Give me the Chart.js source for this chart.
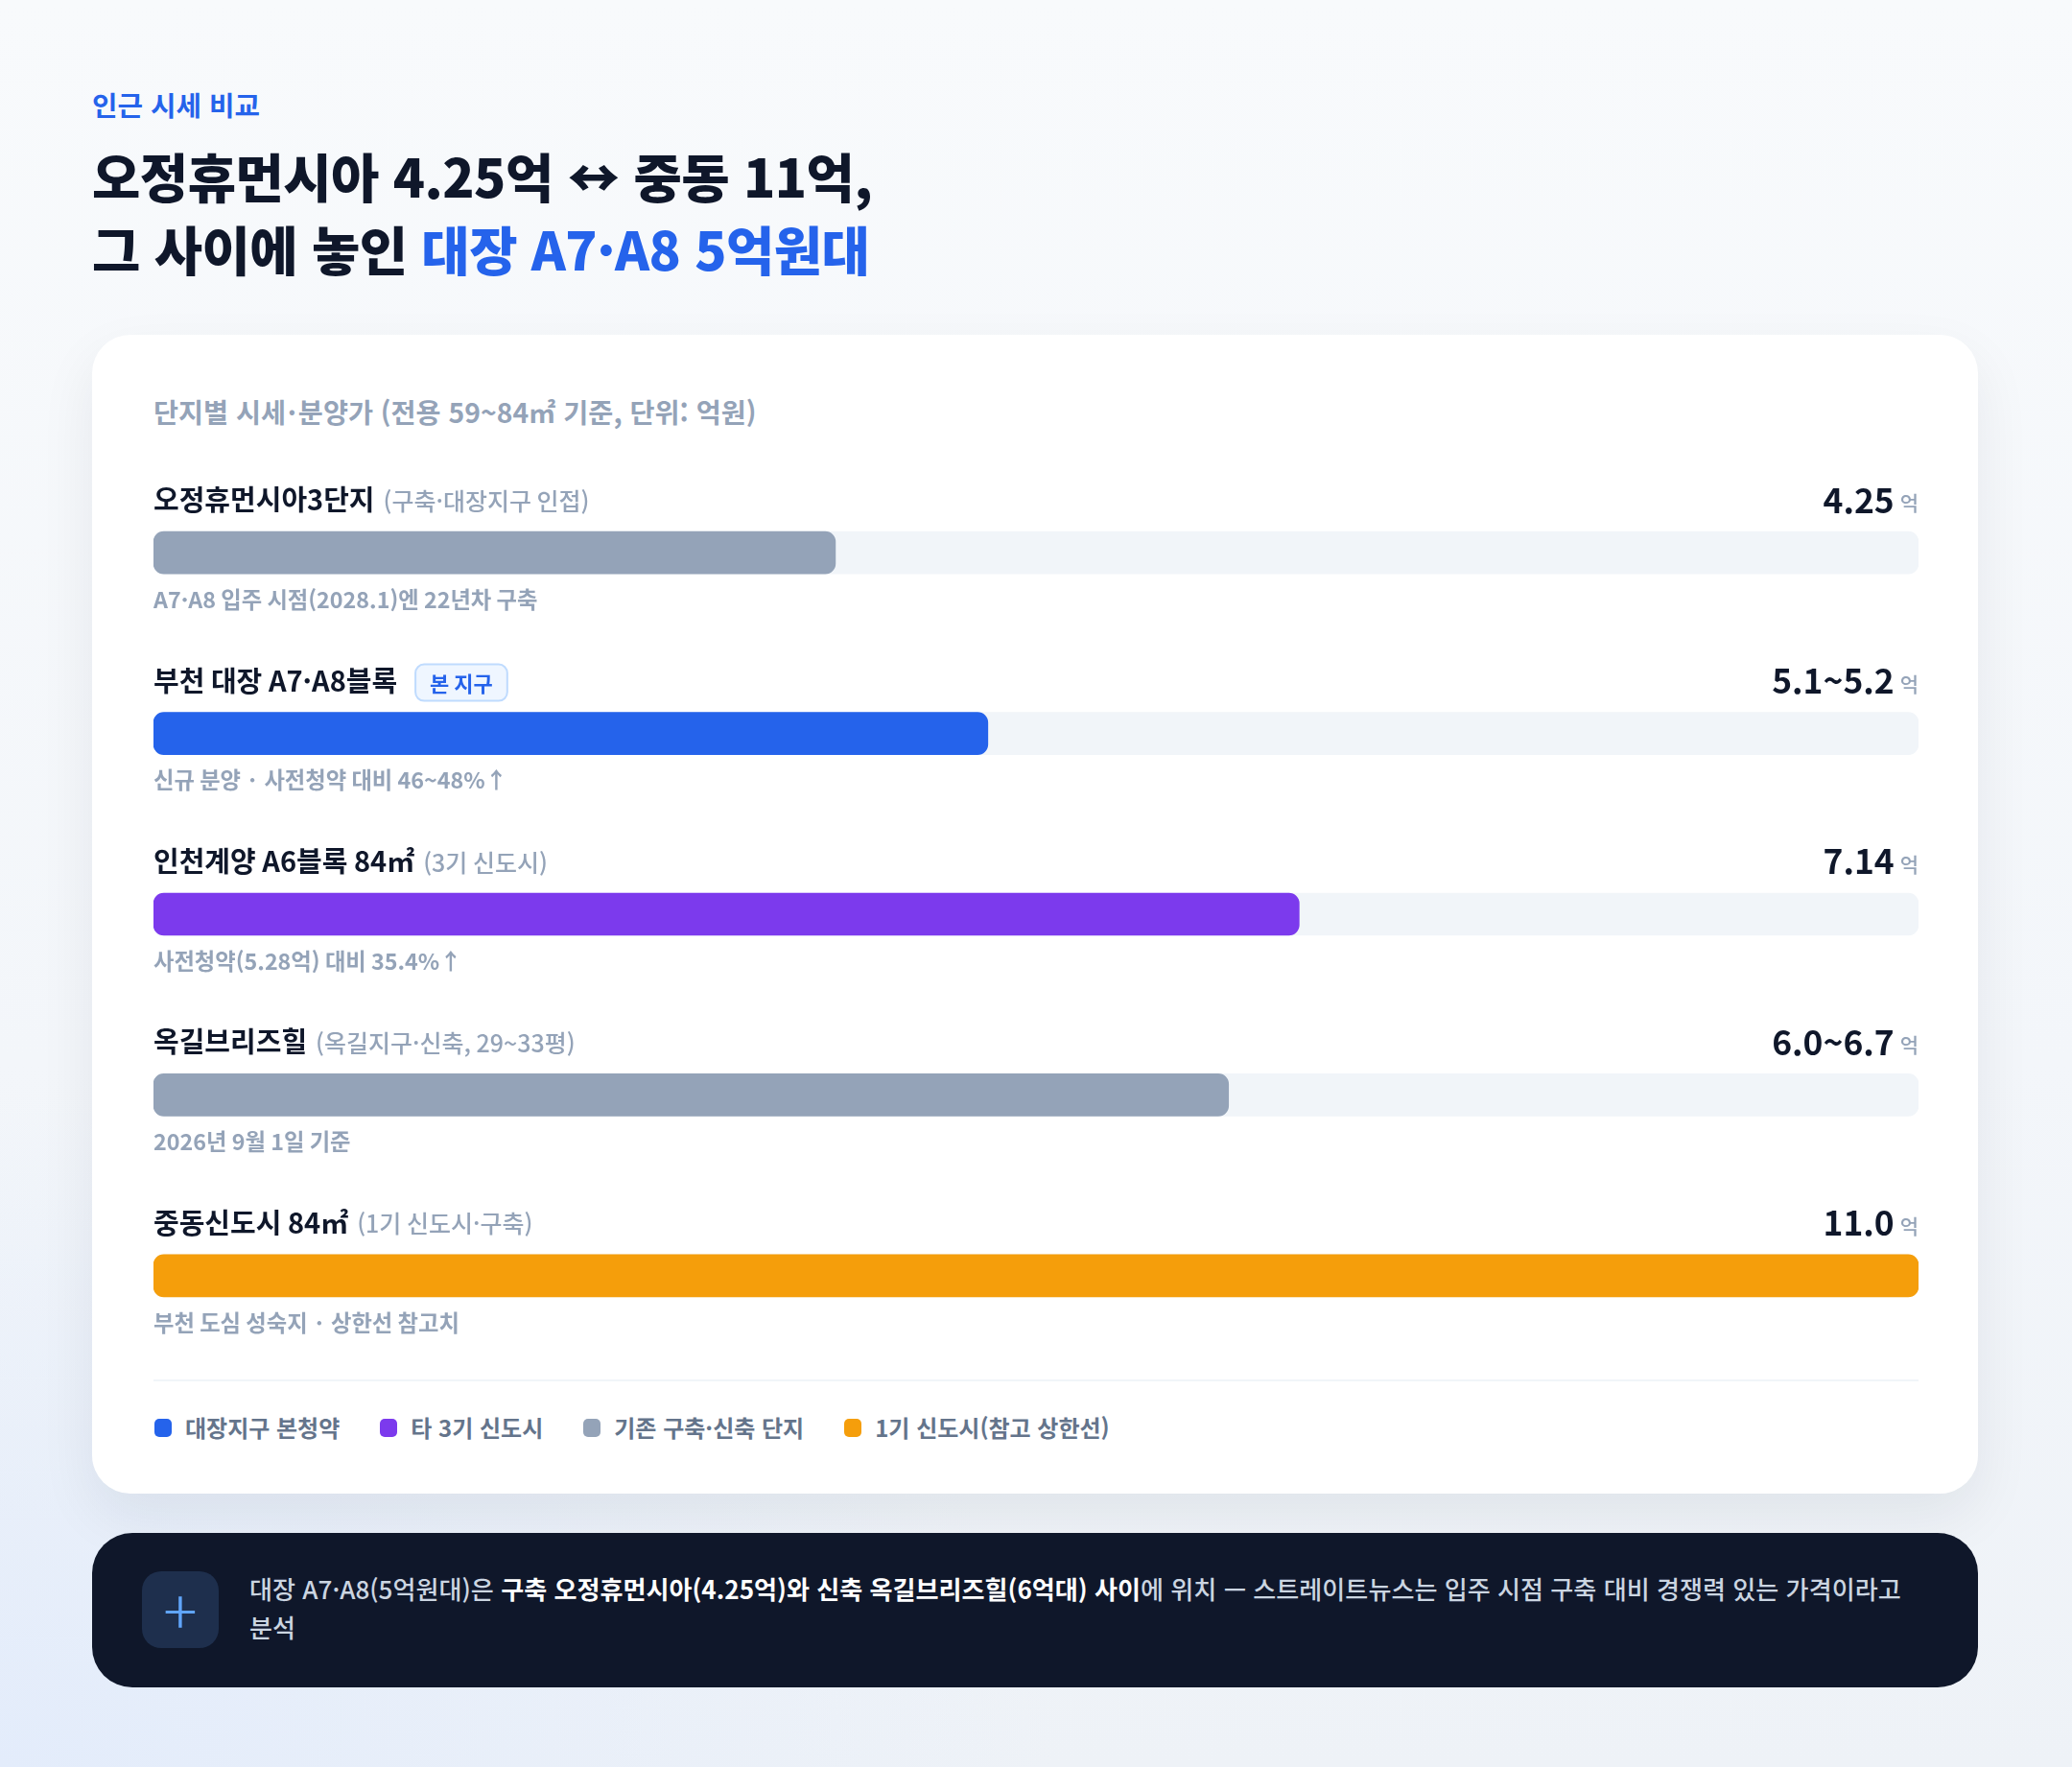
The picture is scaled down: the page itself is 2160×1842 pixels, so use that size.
<!DOCTYPE html>
<html lang="ko">
<head>
<meta charset="utf-8">
<title>인근 시세 비교</title>
<script src="https://cdn.jsdelivr.net/npm/chart.js@4.4.1/dist/chart.umd.min.js"></script>
<style>
  html, body { margin: 0; padding: 0; }
  body {
    width: 2160px; height: 1842px; position: relative; overflow: hidden;
    font-family: "Noto Sans CJK KR", "Noto Sans", sans-serif;
    background:
      radial-gradient(ellipse 1100px 700px at 0% 100%, #e3ecfb 0%, rgba(227,236,251,0) 100%),
      linear-gradient(180deg, #f8fafc 0%, #f3f6fa 60%, #eef2f7 100%);
  }
  .eyebrow { position: absolute; left: 96px; top: 89px; font-size: 28.8px; font-weight: 700; color: #2563eb; line-height: 40px; }
  .title { position: absolute; left: 96px; top: 145px; font-size: 54.7px; font-weight: 800; color: #0f172a; line-height: 76px; letter-spacing: -0.5px; }
  .title .hl { color: #2563eb; }
  .card {
    position: absolute; left: 96px; top: 349px; width: 1966px; height: 1208px;
    background: #fff; border-radius: 40px;
    box-shadow: 0 24px 60px rgba(15, 23, 42, 0.07);
  }
  .card h3 { position: absolute; left: 64px; top: 61px; margin: 0; font-size: 28.3px; font-weight: 700; color: #94a3b8; line-height: 38px; }
  .chart-box { position: absolute; left: 64px; top: 133px; width: 1840px; height: 942px; }
  .divider { position: absolute; left: 64px; top: 1089px; width: 1840px; height: 2px; background: #f1f5f9; }
  .legend { position: absolute; left: 65px; top: 1122px; display: flex; gap: 0; font-size: 24px; font-weight: 600; color: #64748b; line-height: 34px; }
  .legend span.item { display: flex; align-items: center; margin-right: 42px; }
  .legend i { display: inline-block; width: 18px; height: 19px; border-radius: 5px; margin-right: 14px; }
  .note {
    position: absolute; left: 96px; top: 1598px; width: 1966px; height: 161px;
    background: #0f172a; border-radius: 42px;
  }
  .note .icon {
    position: absolute; left: 52px; top: 40px; width: 80px; height: 80px; border-radius: 20px;
    background: #1e2f4d; color: #60a5fa; font-size: 66px; font-weight: 200; line-height: 76px; text-align: center;
  }
  .note p {
    position: absolute; left: 164px; top: 38px; width: 1745px; margin: 0;
    font-size: 26.1px; font-weight: 500; color: #cbd5e1; line-height: 40px;
  }
  .note p b { color: #fff; font-weight: 700; }
</style>
</head>
<body>
<div class="eyebrow">인근 시세 비교</div>
<div class="title">오정휴먼시아 4.25억 ↔ 중동 11억,<br>그 사이에 놓인 <span class="hl">대장 A7·A8 5억원대</span></div>

<div class="card">
  <h3>단지별 시세&#8202;·&#8202;분양가 (전용 59~84㎡ 기준, 단위: 억원)</h3>
  <div class="chart-box"><canvas id="priceChart"></canvas></div>
  <div class="divider"></div>
  <div class="legend" id="legend"></div>
</div>

<div class="note">
  <div class="icon">+</div>
  <p>대장 A7·A8(5억원대)은 <b>구축 오정휴먼시아(4.25억)와 신축 옥길브리즈힐(6억대) 사이</b>에 위치 — 스트레이트뉴스는 입주 시점 구축 대비 경쟁력 있는 가격이라고 분석</p>
</div>

<script>
// 단지별 데이터
const complexNames = ['오정휴먼시아3단지', '부천 대장 A7·A8블록', '인천계양 A6블록 84㎡', '옥길브리즈힐', '중동신도시 84㎡'];
const complexDetails = ['(구축·대장지구 인접)', '', '(3기 신도시)', '(옥길지구·신축, 29~33평)', '(1기 신도시·구축)'];
const complexBadges = ['', '본 지구', '', '', ''];
const priceValues = [4.25, 5.2, 7.14, 6.7, 11.0];       // 막대 길이 (억원, 범위는 상단값)
const priceLabels = ['4.25', '5.1~5.2', '7.14', '6.0~6.7', '11.0'];
const complexNotes = [
  'A7·A8 입주 시점(2028.1)엔 22년차 구축',
  '신규 분양 · 사전청약 대비 46~48%↑',
  '사전청약(5.28억) 대비 35.4%↑',
  '2026년 9월 1일 기준',
  '부천 도심 성숙지 · 상한선 참고치'
];
const complexGroups = [2, 0, 1, 2, 3];
const groupNames = ['대장지구 본청약', '타 3기 신도시', '기존 구축·신축 단지', '1기 신도시(참고 상한선)'];
const groupColors = ['#2563eb', '#7c3aed', '#94a3b8', '#f59e0b'];
const scaleMax = 11;

const FONT = "'Noto Sans CJK KR', 'Noto Sans', sans-serif";

// legend
const legendEl = document.getElementById('legend');
groupNames.forEach((name, i) => {
  const item = document.createElement('span');
  item.className = 'item';
  item.innerHTML = '<i style="background:' + groupColors[i] + '"></i>' + name;
  legendEl.appendChild(item);
});

// row labels above / below each bar
const rowText = {
  id: 'rowText',
  afterDatasetsDraw(chart) {
    const ctx = chart.ctx;
    const area = chart.chartArea;
    const yScale = chart.scales.y;
    ctx.save();
    ctx.textBaseline = 'middle';
    complexNames.forEach((name, i) => {
      const y = yScale.getPixelForValue(i);
      const top = y - 55;

      // name
      ctx.textAlign = 'left';
      ctx.font = '700 29px ' + FONT;
      ctx.fillStyle = '#0f172a';
      ctx.fillText(name, area.left, top);
      let x = area.left + ctx.measureText(name).width;

      if (complexDetails[i]) {
        ctx.font = '500 25px ' + FONT;
        ctx.fillStyle = '#94a3b8';
        ctx.fillText(complexDetails[i], x + 9, top + 1);
      }

      if (complexBadges[i]) {
        ctx.font = '700 22px ' + FONT;
        const bw = ctx.measureText(complexBadges[i]).width + 30;
        const bx = x + 19, bh = 38, by = top - bh / 2 + 2;
        ctx.beginPath();
        ctx.roundRect(bx, by, bw, bh, 9);
        ctx.fillStyle = '#eff6ff';
        ctx.fill();
        ctx.lineWidth = 2;
        ctx.strokeStyle = '#bfdbfe';
        ctx.stroke();
        ctx.fillStyle = '#2563eb';
        ctx.fillText(complexBadges[i], bx + 15, by + bh / 2 + 1);
      }

      // value + unit
      ctx.textAlign = 'right';
      ctx.font = '500 21px ' + FONT;
      ctx.fillStyle = '#94a3b8';
      ctx.fillText('억', area.right, top + 3);
      const unitW = ctx.measureText('억').width;
      ctx.font = '700 35.4px ' + FONT;
      ctx.fillStyle = '#0f172a';
      ctx.fillText(priceLabels[i], area.right - unitW - 6, top);

      // note
      ctx.textAlign = 'left';
      ctx.font = '600 23.3px ' + FONT;
      ctx.fillStyle = '#94a3b8';
      ctx.fillText(complexNotes[i], area.left, y + 49);
    });
    ctx.restore();
  }
};

function drawChart() {
  new Chart(document.getElementById('priceChart'), {
    type: 'bar',
    data: {
      labels: complexNames,
      datasets: [
        {
          label: 'value',
          data: priceValues,
          backgroundColor: complexGroups.map(g => groupColors[g]),
          barThickness: 44,
          borderRadius: 11,
          borderSkipped: false,
          grouped: false,
          order: 1
        },
        {
          label: 'track',
          data: complexNames.map(() => scaleMax),
          backgroundColor: '#f1f5f9',
          barThickness: 44,
          borderRadius: 11,
          borderSkipped: false,
          grouped: false,
          order: 2
        }
      ]
    },
    options: {
      indexAxis: 'y',
      responsive: true,
      maintainAspectRatio: false,
      animation: false,
      layout: { padding: 0 },
      scales: {
        x: { display: false, min: 0, max: scaleMax },
        y: { display: false }
      },
      plugins: {
        legend: { display: false },
        tooltip: { enabled: false }
      }
    },
    plugins: [rowText]
  });
}

if (document.fonts && document.fonts.ready) {
  document.fonts.ready.then(drawChart);
} else {
  drawChart();
}
</script>
</body>
</html>
